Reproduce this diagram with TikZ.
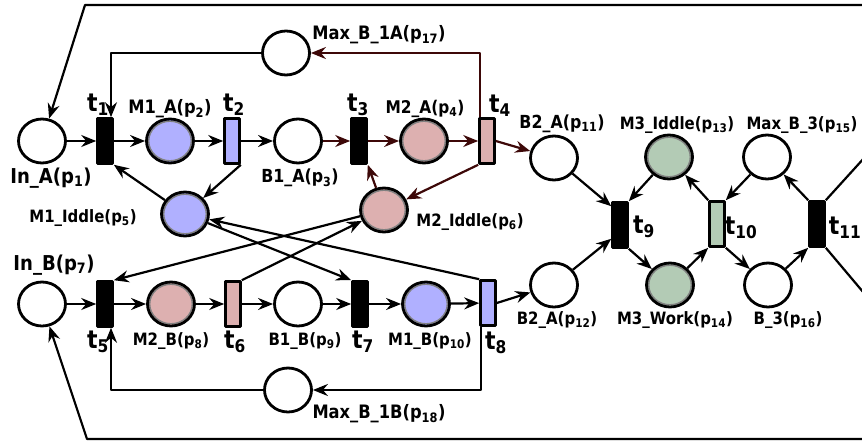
\documentclass[tikz,border=0pt]{standalone}
\usepackage{fontspec}
\setmainfont{DejaVu Sans}[FakeStretch=0.88]
\usetikzlibrary{arrows.meta,shapes.geometric}
\definecolor{mblue}{HTML}{B0B0FF}
\definecolor{mpink}{HTML}{DDB0B0}
\definecolor{mgreen}{HTML}{B3CBB5}
\definecolor{arcred}{HTML}{3D0808}
\tikzset{
  every picture/.style={line join=round, >={Stealth[length=15pt,width=12pt,inset=5pt]}},
  place/.style={ellipse, draw, line width=2.8pt, fill=white, minimum width=47pt, minimum height=44pt, inner sep=0pt},
  marked/.style={place, fill=#1, path picture={\draw[gray, line width=1.4pt]
      (path picture bounding box.center) ellipse (21.3pt and 19.8pt);}},
  trans/.style={rectangle, draw, line width=2.6pt, fill=black, minimum width=15pt, minimum height=45pt, inner sep=0pt},
  arc/.style={->, line width=2.2pt},
  redarc/.style={arc, draw=arcred},
  lbl/.style={font=\bfseries\fontsize{#1}{#1}\selectfont, inner sep=0pt},
  lbl/.default=17,
  tlbl/.style={font=\bfseries\fontsize{25}{25}\selectfont, inner sep=0pt},
}

\begin{document}
\begin{tikzpicture}[x=1pt,y=-1pt]
\clip (0,0) rectangle (862,441);
% places
\node[place] (p1) at (42,141) {};
\node[marked=mblue] (p2) at (170,141) {};
\node[place] (p3) at (298,141) {};
\node[marked=mpink] (p4) at (424,141) {};
\node[marked=mblue] (p5) at (185,214) {};
\node[marked=mpink] (p6) at (384,210) {};
\node[place] (p7) at (42,304) {};
\node[marked=mpink] (p8) at (171,304) {};
\node[place] (p9) at (298,304) {};
\node[marked=mblue] (p10) at (426,304) {};
\node[place] (p11) at (554,158) {};
\node[place] (p12) at (554,285) {};
\node[marked=mgreen] (p13) at (669,157) {};
\node[marked=mgreen] (p14) at (670,285) {};
\node[place] (p15) at (767,157) {};
\node[place] (p16) at (768,285) {};
\node[place] (p17) at (286,53) {};
\node[place] (p18) at (288,390) {};
% transitions
\node[trans] (t1) at (105,141) {};
\node[trans,fill=mblue] (t2) at (232,141) {};
\node[trans] (t3) at (359,141) {};
\node[trans,fill=mpink] (t4) at (487,141) {};
\node[trans] (t5) at (105,304) {};
\node[trans,fill=mpink] (t6) at (233,304) {};
\node[trans] (t7) at (360,304) {};
\node[trans,fill=mblue] (t8) at (488,303) {};
\node[trans] (t9) at (620,225) {};
\node[trans,fill=mgreen] (t10) at (717,224) {};
\node[trans] (t11) at (817,224) {};
% labels
\node[lbl=20.5] (l1) at (51,178) {In\_A(p\textsubscript{1})};
\node[lbl=18.5] (l2) at (170,109) {M1\_A(p\textsubscript{2})};
\node[lbl=18] (l3) at (300,178) {B1\_A(p\textsubscript{3})};
\node[lbl=17.5] (l4) at (425,109) {M2\_A(p\textsubscript{4})};
\node[lbl] (l5) at (83,218) {M1\_Iddle(p\textsubscript{5})};
\node[lbl] (l6) at (470,222) {M2\_Iddle(p\textsubscript{6})};
\node[lbl=20.5] (l7) at (54,265) {In\_B(p\textsubscript{7})};
\node[lbl] (l8) at (171,341) {M2\_B(p\textsubscript{8})};
\node[lbl] (l9) at (305,341) {B1\_B(p\textsubscript{9})};
\node[lbl] (l10) at (430,341) {M1\_B(p\textsubscript{10})};
\node[lbl=18] (l11) at (562,124) {B2\_A(p\textsubscript{11})};
\node[lbl] (l12) at (557,320) {B2\_A(p\textsubscript{12})};
\node[lbl] (l13) at (677,125) {M3\_Iddle(p\textsubscript{13})};
\node[lbl] (l14) at (675,320) {M3\_Work(p\textsubscript{14})};
\node[lbl] (l15) at (802,125) {Max\_B\_3(p\textsubscript{15})};
\node[lbl] (l16) at (788,320) {B\_3(p\textsubscript{16})};
\node[lbl=18.5] (l17) at (379,35) {Max\_B\_1A(p\textsubscript{17})};
\node[lbl=18.5] (l18) at (379,414) {Max\_B\_1B(p\textsubscript{18})};
\node[tlbl] (lt1) at (98,105) {t\textsubscript{1}};
\node[tlbl] (lt2) at (234,105) {t\textsubscript{2}};
\node[tlbl] (lt3) at (358,105) {t\textsubscript{3}};
\node[tlbl] (lt4) at (500,106) {t\textsubscript{4}};
\node[tlbl] (lt5) at (98,342) {t\textsubscript{5}};
\node[tlbl] (lt6) at (235,342) {t\textsubscript{6}};
\node[tlbl] (lt7) at (363,342) {t\textsubscript{7}};
\node[tlbl] (lt8) at (496,343) {t\textsubscript{8}};
\node[tlbl] (lt9) at (644,227) {t\textsubscript{9}};
\node[tlbl] (lt10) at (741,228) {t\textsubscript{10}};
\node[tlbl] (lt11) at (845,228) {t\textsubscript{11}};
% outer loop corners
\coordinate (ctl) at (85,5);
\coordinate (ctr) at (1003,5);
\coordinate (cbl) at (87,439);
\coordinate (cbr) at (987,439);
% row A
\draw[arc] (p1) -- (t1);
\draw[arc] (t1) -- (p2);
\draw[arc] (p2) -- (t2);
\draw[arc] (t2) -- (p3);
\draw[redarc] (p3) -- (t3);
\draw[redarc] (t3) -- (p4);
\draw[redarc] (p4) -- (t4);
\draw[redarc] (t4.east) -- (p11);
\draw[arc] (t2.south east) -- (p5);
\draw[arc] (p5) -- (t1.south east);
\draw[redarc] (t4.south west) -- (p6);
\draw[redarc] (p6) -- (t3.south east);
\draw[arc] (p17.west) -| ([xshift=6pt]t1.north);
\draw[redarc] ([xshift=-7pt]t4.north) |- (p17.east);
% row B
\draw[arc] (p7) -- (t5);
\draw[arc] (t5) -- (p8);
\draw[arc] (p8) -- (t6);
\draw[arc] (t6) -- (p9);
\draw[arc] (p9) -- (t7);
\draw[arc] (t7) -- (p10);
\draw[arc] (p10) -- (t8);
\draw[arc] (t8.east) -- (p12);
\draw[arc] (p18.west) -| ([xshift=6pt]t5.south);
\draw[arc] ([xshift=-7pt]t8.south) |- (p18.east);
% crossing arcs
\draw[arc] (p5) -- (t7.north west);
\draw[arc] (t8.north west) -- (p5);
\draw[arc] (p6) -- (t5.north east);
\draw[arc] (t6.north east) -- (p6);
% machine 3
\draw[arc] (p11) -- ([yshift=-5pt]t9.north west);
\draw[arc] (p12) -- ([yshift=10pt]t9.south west);
\draw[arc] (p13) -- (t9.north east);
\draw[arc] (t9.south east) -- (p14);
\draw[arc] (p14) -- (t10.south west);
\draw[arc] (t10.north west) -- (p13);
\draw[arc] (p15) -- (t10.north east);
\draw[arc] (t10.south east) -- (p16);
\draw[arc] (p16) -- (t11.south west);
\draw[arc] (t11.north west) -- (p15);
% return loops
\draw[arc] (t11.north east) -- (ctr) -- (ctl) -- (p1);
\draw[arc] (t11.south east) -- (cbr) -- (cbl) -- (p7);
\end{tikzpicture}
\end{document}
